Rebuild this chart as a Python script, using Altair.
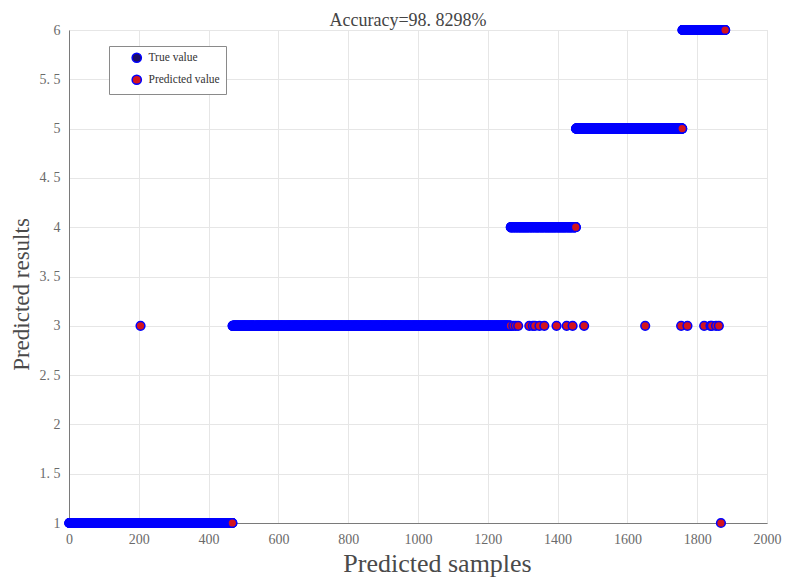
import altair as alt
import pandas as pd

# ---- data ----
n_samples = 1880
run_starts = [1, 469, 1266, 1453, 1758]      # first sample index of each true-class run
run_classes = [1, 3, 4, 5, 6]                 # true class of each run
wrong_idx = [205, 1273, 1280, 1287, 1319, 1329, 1335, 1348, 1362, 1397, 1426, 1443,
             1476, 1651, 1754, 1772, 1820, 1838, 1842, 1854, 1862, 1868]
wrong_pred = [3, 3, 3, 3, 3, 3, 3, 3, 3, 3, 3, 3,
              3, 3, 3, 3, 3, 3, 3, 3, 3, 1]
x_ticks = [0, 200, 400, 600, 800, 1000, 1200, 1400, 1600, 1800, 2000]
y_ticks = [1, 1.5, 2, 2.5, 3, 3.5, 4, 4.5, 5, 5.5, 6]
series_names = ["True value", "Predicted value"]
series_fill = ["#1c0c66", "#d3141e"]

# build the true / predicted tables from the runs above
true_vals = []
for i in range(1, n_samples + 1):
    c = run_classes[0]
    for s, k in zip(run_starts, run_classes):
        if i >= s:
            c = k
    true_vals.append(c)
pred_vals = list(true_vals)
for i, p in zip(wrong_idx, wrong_pred):
    pred_vals[i - 1] = p

idx = list(range(1, n_samples + 1))
df_true = pd.DataFrame({"idx": idx, "val": true_vals, "series": "True value"})
df_pred = pd.DataFrame({"idx": idx, "val": pred_vals, "series": "Predicted value"})

serif = "Liberation Serif"
lab_col = "#6a6a6a"

x_enc = alt.X("idx:Q",
              scale=alt.Scale(domain=[0, 2000], nice=False, zero=False),
              axis=alt.Axis(values=x_ticks, format="d", title="Predicted samples",
                            titleFontSize=26, titleFont=serif, titleColor="#4a4a4a",
                            titleFontWeight="normal", titleX=368, titleY=27,
                            titleBaseline="top", titleAlign="center",
                            labelFont=serif, labelFontSize=14, labelColor=lab_col,
                            labelPadding=9, labelFlush=False, ticks=False, grid=True,
                            gridColor="#e6e6e6", domainColor="#7a7a7a"))
y_enc = alt.Y("val:Q",
              scale=alt.Scale(domain=[1, 6], nice=False, zero=False),
              axis=alt.Axis(values=y_ticks, title="Predicted results",
                            labelExpr="replace(format(datum.value, '~g'), '.', '. ')",
                            titleFontSize=23, titleFont=serif, titleColor="#4a4a4a",
                            titleFontWeight="normal", titleX=-36, titleY=264,
                            titleBaseline="bottom", titleAlign="center", titleAngle=270,
                            labelFont=serif, labelFontSize=14, labelColor=lab_col,
                            labelPadding=9, labelFlush=False, ticks=False, grid=True,
                            gridColor="#e6e6e6", domainColor="#7a7a7a"))
fill_enc = alt.Fill("series:N",
                    scale=alt.Scale(domain=series_names, range=series_fill),
                    legend=alt.Legend(title=None, orient="none", legendX=40, legendY=16,
                                      labelFont=serif, labelFontSize=11.5, labelColor="#333333",
                                      symbolType="circle", symbolSize=85, symbolOffset=16,
                                      symbolStrokeColor="#0000ff", symbolStrokeWidth=1.5,
                                      strokeColor="#8a8a8a", fillColor="#ffffff",
                                      padding=6, rowPadding=6, labelOffset=6))

base_true = alt.Chart(df_true).mark_point(filled=True, size=76, stroke="#0000ff",
                                          strokeWidth=1.5, opacity=1).encode(
    x=x_enc, y=y_enc, fill=fill_enc)
base_pred = alt.Chart(df_pred).mark_point(filled=True, size=76, stroke="#0000ff",
                                          strokeWidth=1.5, opacity=1).encode(
    x=x_enc, y=y_enc, fill=fill_enc)

chart = alt.layer(base_true, base_pred).properties(
    width=698, height=493,
    title=alt.Title("Accuracy=98. 8298%", font=serif, fontSize=18, fontWeight="normal",
                    color="#444444", anchor="middle", offset=4, dy=11, dx=-10),
    autosize=alt.AutoSizeParams(type="none"),
    padding={"left": 69, "top": 30, "right": 20, "bottom": 58},
).configure_view(
    stroke="#cfcfcf", strokeWidth=1
).configure(background="white")

chart.save("out.html", embed_options={"renderer": "svg", "actions": False})
